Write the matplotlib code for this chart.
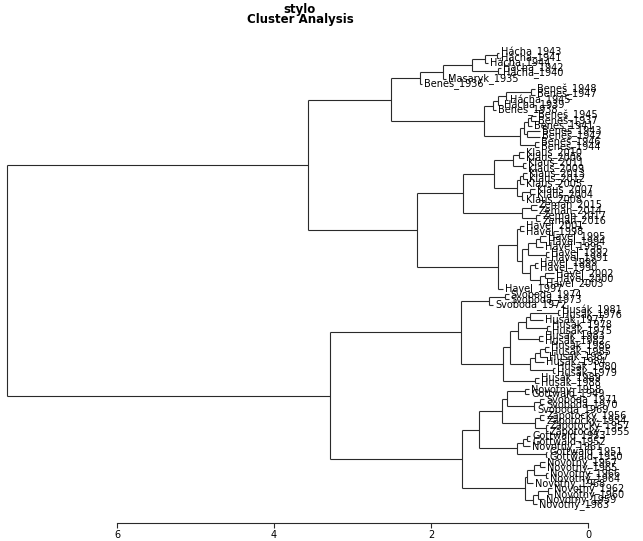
import matplotlib
matplotlib.use("Agg")
import matplotlib.pyplot as plt

# leaves, top to bottom as drawn
labels = [
    "Hácha_1943", "Hácha_1941", "Hácha_1944", "Hácha_1942", "Hácha_1940",
    "Masaryk_1935", "Beneš_1936",
    "Beneš_1948", "Beneš_1947", "Hácha_1945", "Hácha_1939", "Beneš_1938",
    "Beneš_1945", "Beneš_1937", "Beneš_1941", "Beneš_1943", "Beneš_1942",
    "Beneš_1946", "Beneš_1944",
    "Klaus_2010", "Klaus_2006", "Klaus_2011", "Klaus_2009", "Klaus_2013",
    "Klaus_2012", "Klaus_2005", "Klaus_2007", "Klaus_2004", "Klaus_2008",
    "Zeman_2015", "Zeman_2014", "Zeman_2017", "Zeman_2016",
    "Havel_2001", "Havel_1998", "Havel_1995", "Havel_1994", "Havel_1996",
    "Havel_1992", "Havel_1991", "Havel_1999", "Havel_1990", "Havel_2002",
    "Havel_2000", "Havel_2003", "Havel_1997",
    "Svoboda_1974", "Svoboda_1973", "Svoboda_1972",
    "Husák_1981", "Husák_1976", "Husák_1977", "Husák_1978", "Husák_1975",
    "Husák_1983", "Husák_1982", "Husák_1986", "Husák_1985", "Husák_1987",
    "Husák_1984", "Husák_1980", "Husák_1979", "Husák_1989", "Husák_1988",
    "Novotný_1958", "Gottwald_1949", "Svoboda_1971", "Svoboda_1970", "Svoboda_1969",
    "Zápotocký_1956", "Zápotocký_1954", "Zápotocký_1957", "Zápotocký_1955",
    "Gottwald_1953", "Gottwald_1952", "Novotný_1961", "Gottwald_1951", "Gottwald_1950",
    "Novotný_1967", "Novotný_1965", "Novotný_1966", "Novotný_1964", "Novotný_1968",
    "Novotný_1962", "Novotný_1960", "Novotný_1959", "Novotný_1963",
]

# where each terminal branch ends
tip_height = [
    1.13, 1.13, 1.27, 1.11, 1.11, 1.81, 2.11,
    0.68, 0.68, 1.02, 1.10, 1.17,
    0.66, 0.66, 0.71, 0.61, 0.61, 0.62, 0.62,
    0.82, 0.82, 0.79, 0.79, 0.78, 0.78, 0.82, 0.68, 0.68, 0.82,
    0.65, 0.65, 0.61, 0.61,
    0.82, 0.82, 0.54, 0.54, 0.57, 0.50, 0.50, 0.64, 0.64, 0.43, 0.43, 0.56, 1.08,
    1.01, 1.01, 1.21,
    0.36, 0.36, 0.57, 0.48, 0.48, 0.57, 0.57, 0.50, 0.50, 0.52, 0.56, 0.42, 0.42,
    0.62, 0.62,
    0.75, 0.75, 0.56, 0.56, 0.67,
    0.56, 0.56, 0.51, 0.51,
    0.74, 0.74, 0.74, 0.52, 0.52,
    0.55, 0.55, 0.51, 0.51, 0.70, 0.46, 0.46, 0.56, 0.65,
]

# merges as in hclust: negative = leaf (1-based), positive = earlier merge row
merge = [
    (-1, -2), (1, -3), (-4, -5), (2, 3), (4, -6), (5, -7),
    (-8, -9), (7, -10), (8, -11), (9, -12),
    (-13, -14), (11, -15), (-16, -17), (12, 13), (-18, -19), (14, 15),
    (10, 16), (6, 17),
    (-20, -21), (-22, -23), (19, 20), (-24, -25), (22, -26), (-27, -28),
    (24, -29), (23, 25), (21, 26),
    (-30, -31), (-32, -33), (28, 29), (27, 30),
    (-34, -35), (-36, -37), (33, -38), (-39, -40), (34, 35), (-41, -42),
    (-43, -44), (38, -45), (37, 39), (36, 40), (32, 41), (42, -46),
    (31, 43), (18, 44),
    (-47, -48), (46, -49),
    (-50, -51), (48, -52), (-53, -54), (49, 50), (-55, -56), (51, 52),
    (-57, -58), (54, -59), (55, -60), (-61, -62), (56, 57), (53, 58),
    (-63, -64), (59, 60), (47, 61),
    (-65, -66), (-67, -68), (64, -69), (63, 65), (-70, -71), (-72, -73),
    (67, 68), (66, 69), (-74, -75), (71, -76), (-77, -78), (72, 73), (70, 74),
    (-79, -80), (-81, -82), (76, 77), (78, -83), (-84, -85), (80, -86),
    (81, -87), (79, 82), (75, 83),
    (62, 84), (45, 85),
]
merge_height = [
    1.16, 1.31, 1.15, 1.48, 1.85, 2.14,
    0.73, 1.05, 1.15, 1.21,
    0.73, 0.76, 0.78, 0.82, 0.68, 0.87,
    1.32, 2.51,
    0.88, 0.83, 0.96, 0.83, 0.87, 0.74,
    0.84, 0.90, 1.20,
    0.73, 0.66, 0.84, 1.59,
    0.87, 0.61, 0.66, 0.54, 0.76, 0.68,
    0.55, 0.61, 0.74, 0.84, 0.90, 1.15,
    2.18, 3.57,
    1.06, 1.26,
    0.38, 0.74, 0.52, 0.79, 0.62, 0.89,
    0.55, 0.61, 0.68, 0.45, 0.74, 0.99,
    0.68, 1.08, 1.62,
    0.80, 0.61, 0.69, 1.03, 0.61, 0.54,
    0.68, 1.10, 0.78, 0.83, 0.54, 0.90, 1.39,
    0.61, 0.54, 0.69, 0.78, 0.51, 0.64,
    0.70, 0.80, 1.61,
    3.29, 7.40,
]

axis_ticks = [6, 4, 2, 0]

W, H = 643, 541
fig = plt.figure(figsize=(W / 100, H / 100), dpi=100)
ax = fig.add_axes([0, 0, 1, 1])
ax.set_xlim(7.49, -0.70)
ax.set_ylim(94.01, -9.04)
ax.axis("off")

line_kw = dict(color="#2a2a2a", lw=0.8, solid_capstyle="butt")
leaf_y = list(range(1, len(labels) + 1))
node_x, node_y = [], []


def pos(k):
    if k < 0:
        return tip_height[-k - 1], leaf_y[-k - 1]
    return node_x[k - 1], node_y[k - 1]


for (a, b), h in zip(merge, merge_height):
    xa, ya = pos(a)
    xb, yb = pos(b)
    ax.plot([h, h], [ya, yb], **line_kw)
    ax.plot([h, xa], [ya, ya], **line_kw)
    ax.plot([h, xb], [yb, yb], **line_kw)
    node_x.append(h)
    node_y.append((ya + yb) / 2)

for lab, x, y in zip(labels, tip_height, leaf_y):
    ax.annotate(lab, (x, y), xytext=(1.5, 0), textcoords="offset points",
                ha="left", va="center", fontsize=7, color="black")

# title
fig.text(300 / W, 1 - 9 / H, "stylo", ha="center", va="center",
         fontsize=8.5, fontweight="bold")
fig.text(300 / W, 1 - 20 / H, "Cluster Analysis", ha="center", va="center",
         fontsize=8.5, fontweight="bold")

# distance scale at the bottom
ax2 = fig.add_axes([0, 18 / H, 1, 0.0001])
ax2.set_xlim(ax.get_xlim())
ax2.patch.set_visible(False)
for side in ["top", "left", "right"]:
    ax2.spines[side].set_visible(False)
ax2.spines["bottom"].set_bounds(0, 6)
ax2.spines["bottom"].set_color("#2a2a2a")
ax2.spines["bottom"].set_linewidth(0.8)
ax2.set_yticks([])
ax2.set_xticks(axis_ticks)
ax2.set_xticklabels([str(t) for t in axis_ticks])
ax2.tick_params(axis="x", length=3.5, width=0.8, color="#2a2a2a",
                labelsize=7, pad=1.5)

fig.savefig("out.png", dpi=100)
